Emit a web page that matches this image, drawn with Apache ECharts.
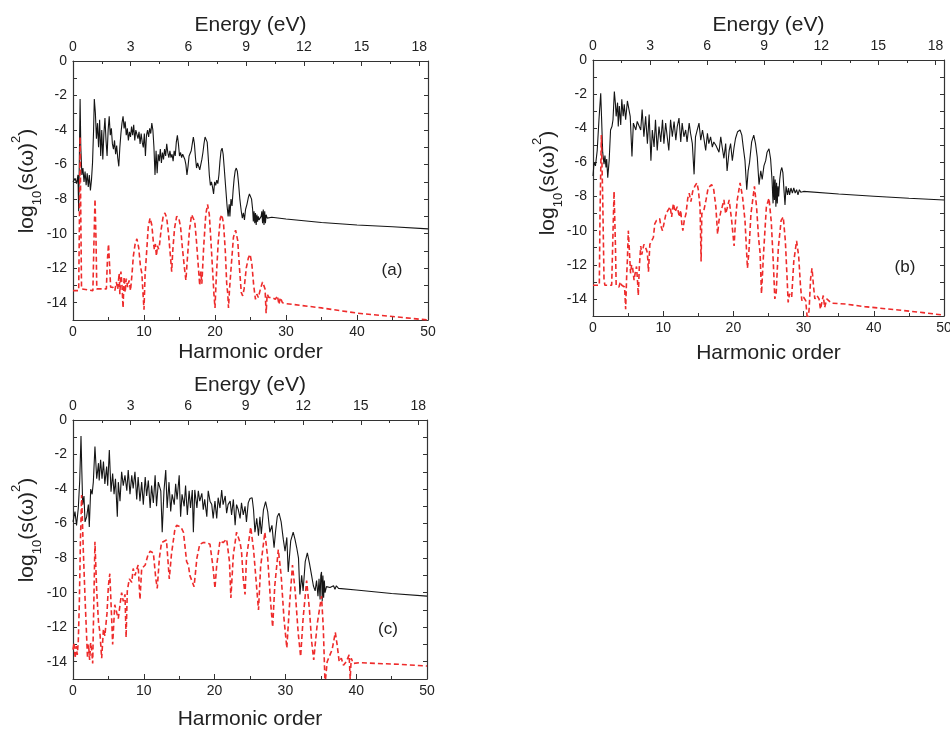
<!DOCTYPE html>
<html><head><meta charset="utf-8">
<script src="https://cdn.jsdelivr.net/npm/echarts@6/dist/echarts.min.js"></script>
<style>html,body{margin:0;padding:0;background:#fff}#c{width:950px;height:729px}</style>
</head><body><div id="c"></div>
<script>
// ---------- data: [harmonic order, log10(s(w)^2)] ----------
const aBlack = [[0,-7.0],[0.3,-6.8],[0.5,-7.1],[0.7,-6.6],[0.8,-8.7],[0.9,-5.5],[1.0,-2.2],[1.1,-5.0],[1.25,-6.6],[1.4,-6.2],[1.55,-7.0],[1.7,-6.4],[1.85,-7.2],[2.0,-6.5],[2.15,-7.3],[2.3,-6.6],[2.45,-7.5],[2.6,-6.9],[2.75,-5.9],[2.9,-4.0],[3.0,-2.2],[3.15,-3.0],[3.3,-4.5],[3.45,-3.6],[3.6,-5.0],[3.75,-3.4],[3.9,-5.5],[4.05,-4.0],[4.2,-5.7],[4.35,-4.2],[4.5,-3.3],[4.65,-4.6],[4.8,-5.5],[4.95,-4.0],[5.1,-3.2],[5.25,-4.3],[5.4,-3.9],[5.55,-4.8],[5.7,-5.1],[5.85,-4.6],[6.0,-5.4],[6.15,-4.9],[6.3,-5.6],[6.45,-6.1],[6.6,-5.0],[6.75,-4.2],[6.9,-3.6],[7.05,-3.2],[7.2,-3.9],[7.35,-3.5],[7.5,-4.3],[7.65,-3.9],[7.8,-4.6],[7.95,-4.1],[8.1,-4.4],[8.25,-3.8],[8.4,-4.3],[8.55,-3.7],[8.7,-4.6],[8.85,-4.0],[9.0,-3.9],[9.15,-4.5],[9.3,-4.1],[9.45,-4.8],[9.6,-4.2],[9.75,-4.7],[9.9,-5.0],[10.05,-4.2],[10.2,-5.5],[10.35,-4.3],[10.5,-4.0],[10.65,-4.4],[10.8,-3.9],[10.95,-4.2],[11.1,-3.6],[11.25,-4.0],[11.4,-5.0],[11.55,-6.6],[11.7,-5.2],[11.85,-6.5],[12.0,-5.4],[12.15,-5.8],[12.3,-5.1],[12.45,-5.9],[12.6,-5.3],[12.75,-5.7],[12.9,-5.1],[13.05,-5.5],[13.2,-4.8],[13.35,-5.3],[13.5,-5.6],[13.65,-5.2],[13.8,-5.6],[13.95,-5.4],[14.1,-5.8],[14.25,-5.2],[14.4,-5.5],[14.55,-4.7],[14.7,-4.3],[14.85,-4.8],[15.0,-5.5],[15.15,-5.3],[15.3,-5.6],[15.45,-5.4],[15.6,-5.5],[15.75,-5.7],[15.9,-6.0],[16.05,-6.6],[16.2,-6.1],[16.35,-5.5],[16.5,-5.5],[16.65,-5.2],[16.8,-4.8],[16.95,-4.4],[17.1,-4.8],[17.25,-5.6],[17.4,-6.2],[17.55,-5.9],[17.7,-6.0],[17.85,-6.3],[18.0,-6.0],[18.15,-5.7],[18.3,-5.3],[18.45,-4.8],[18.6,-4.4],[18.75,-4.3],[18.9,-4.7],[19.05,-5.6],[19.2,-6.6],[19.35,-7.2],[19.5,-7.0],[19.65,-7.3],[19.8,-7.7],[19.95,-7.0],[20.1,-7.2],[20.25,-6.9],[20.4,-7.1],[20.55,-6.6],[20.7,-5.8],[20.85,-5.2],[21.0,-5.05],[21.15,-5.4],[21.3,-6.2],[21.5,-7.3],[21.7,-8.4],[21.85,-9.0],[22.0,-8.3],[22.1,-9.0],[22.25,-8.0],[22.4,-8.4],[22.55,-7.5],[22.7,-6.8],[22.85,-6.35],[23.0,-6.2],[23.15,-6.4],[23.3,-7.0],[23.5,-8.0],[23.7,-8.7],[23.85,-9.1],[24.0,-8.8],[24.15,-9.2],[24.3,-8.6],[24.5,-8.3],[24.7,-7.9],[24.85,-7.7],[25.0,-7.65],[25.15,-8.0],[25.3,-8.6],[25.4,-9.3],[25.5,-8.7],[25.6,-9.4],[25.7,-8.8],[25.8,-9.5],[25.9,-8.9],[26.0,-9.3],[26.1,-9.0],[26.2,-9.2],[26.35,-9.1],[26.5,-9.0],[26.6,-8.7],[26.7,-9.4],[26.8,-8.6],[26.9,-9.5],[27.0,-8.7],[27.1,-9.4],[27.2,-8.9],[27.35,-9.1],[27.5,-9.0],[28,-9.05],[30,-9.15],[35,-9.35],[40,-9.5],[45,-9.6],[50,-9.72]];
const aRed = [[0,-13.3],[0.8,-13.3],[0.9,-9.5],[1.0,-4.4],[1.1,-9.0],[1.2,-13.2],[2.8,-13.3],[2.95,-10.5],[3.1,-8.0],[3.25,-10.5],[3.35,-13.2],[4.7,-13.2],[4.85,-11.5],[5.0,-10.6],[5.15,-11.8],[5.3,-13.1],[5.6,-13.1],[5.9,-13.3],[6.1,-12.8],[6.3,-13.2],[6.5,-12.3],[6.6,-13.5],[6.75,-12.2],[6.9,-13.0],[7.05,-14.3],[7.2,-12.5],[7.35,-13.4],[7.5,-12.6],[7.7,-13.1],[7.9,-12.7],[8.1,-13.3],[8.3,-12.4],[8.5,-11.3],[8.75,-10.6],[9.0,-10.3],[9.25,-10.8],[9.5,-11.9],[9.7,-12.3],[9.85,-13.4],[10.0,-14.4],[10.15,-12.4],[10.35,-11.2],[10.6,-9.6],[10.85,-9.1],[11.1,-9.5],[11.3,-10.4],[11.45,-10.9],[11.6,-10.6],[11.75,-11.3],[11.9,-10.7],[12.05,-10.9],[12.2,-10.6],[12.4,-9.8],[12.7,-9.0],[12.95,-8.8],[13.2,-9.1],[13.45,-10.0],[13.7,-11.2],[13.9,-12.2],[14.05,-11.0],[14.3,-9.7],[14.6,-9.0],[14.9,-9.1],[15.15,-9.6],[15.4,-10.8],[15.7,-12.0],[15.9,-12.7],[16.1,-11.5],[16.4,-9.8],[16.7,-8.9],[16.9,-8.8],[17.15,-9.3],[17.4,-10.5],[17.65,-11.9],[17.85,-13.0],[18.0,-12.2],[18.15,-12.9],[18.4,-10.8],[18.7,-8.9],[18.95,-8.3],[19.2,-8.9],[19.45,-10.6],[19.7,-12.4],[19.85,-13.5],[20.0,-14.3],[20.15,-12.8],[20.45,-10.5],[20.75,-9.1],[20.95,-8.9],[21.2,-9.4],[21.45,-11.0],[21.65,-12.9],[21.8,-13.5],[21.9,-14.3],[22.05,-13.2],[22.3,-11.8],[22.6,-10.2],[22.9,-9.8],[23.2,-10.4],[23.45,-12.0],[23.7,-13.4],[23.9,-13.6],[24.1,-13.2],[24.4,-12.0],[24.7,-11.4],[24.95,-11.2],[25.2,-11.8],[25.45,-13.0],[25.7,-13.8],[25.9,-13.5],[26.1,-13.7],[26.4,-13.2],[26.7,-12.8],[26.9,-12.7],[27.05,-13.2],[27.2,-14.6],[27.35,-13.5],[27.6,-13.7],[28.0,-13.7],[28.5,-13.8],[28.8,-13.6],[29.0,-14.1],[29.2,-13.7],[29.5,-14.0],[30,-14.05],[35,-14.3],[40,-14.6],[45,-14.8],[50,-15.0]];
const bBlack = [[0,-6.8],[0.15,-6.0],[0.35,-6.2],[0.6,-5.3],[0.85,-3.5],[1.1,-1.95],[1.23,-3.5],[1.38,-5.4],[1.57,-6.1],[1.7,-5.6],[1.85,-6.3],[1.95,-5.8],[2.1,-6.9],[2.3,-5.9],[2.5,-4.1],[2.7,-3.9],[2.85,-3.5],[3.04,-1.85],[3.2,-2.6],[3.3,-3.3],[3.5,-2.5],[3.6,-3.9],[3.75,-2.7],[3.95,-3.8],[4.1,-2.3],[4.3,-3.3],[4.45,-2.6],[4.65,-3.5],[4.9,-2.4],[5.1,-2.4],[5.3,-3.3],[5.55,-5.66],[5.75,-3.7],[5.9,-3.6],[6.1,-4.1],[6.3,-3.6],[6.55,-3.7],[6.8,-4.1],[7.0,-2.9],[7.25,-4.5],[7.5,-3.3],[7.75,-4.9],[8.0,-3.2],[8.25,-5.9],[8.45,-4.1],[8.7,-5.1],[8.9,-3.5],[9.15,-5.3],[9.4,-3.9],[9.65,-4.8],[9.9,-3.5],[10.1,-4.9],[10.35,-3.7],[10.6,-4.6],[10.8,-5.3],[11.05,-3.5],[11.3,-4.5],[11.55,-3.6],[11.8,-4.7],[12.0,-3.9],[12.25,-3.4],[12.5,-4.8],[12.7,-3.7],[12.95,-4.5],[13.2,-4.1],[13.4,-4.8],[13.7,-3.7],[13.9,-4.3],[14.15,-4.9],[14.4,-6.7],[14.6,-4.5],[14.85,-4.1],[15.1,-3.7],[15.35,-4.7],[15.6,-4.1],[15.8,-4.6],[16.05,-5.3],[16.3,-4.3],[16.5,-4.9],[16.75,-4.5],[17.0,-5.1],[17.2,-4.8],[17.5,-5.0],[17.7,-4.9],[17.95,-5.4],[18.2,-4.5],[18.4,-5.1],[18.65,-5.76],[18.9,-4.9],[19.1,-6.5],[19.4,-5.3],[19.6,-4.9],[19.85,-5.9],[20.1,-5.1],[20.3,-4.6],[20.6,-4.2],[20.95,-4.1],[21.2,-4.4],[21.4,-5.1],[21.65,-5.9],[21.9,-7.6],[22.1,-6.5],[22.3,-6.0],[22.6,-4.8],[22.9,-4.4],[23.15,-4.9],[23.4,-5.7],[23.65,-7.3],[23.9,-6.5],[24.1,-7.0],[24.35,-6.2],[24.6,-5.9],[24.8,-5.4],[25.07,-5.2],[25.3,-5.8],[25.5,-7.0],[25.65,-8.4],[25.75,-6.8],[25.85,-8.2],[25.95,-7.0],[26.05,-8.6],[26.15,-7.2],[26.25,-8.4],[26.35,-7.4],[26.45,-8.0],[26.6,-7.0],[26.75,-6.5],[26.9,-6.3],[27.05,-6.6],[27.2,-7.6],[27.35,-8.5],[27.5,-7.4],[27.7,-7.9],[27.85,-7.5],[28.0,-7.9],[28.2,-7.5],[28.4,-7.8],[28.6,-7.5],[28.8,-7.8],[29.0,-7.6],[29.2,-7.9],[29.4,-7.6],[29.6,-7.75],[30,-7.7],[35,-7.85],[40,-7.98],[45,-8.1],[50,-8.2]];
const bRed = [[0,-13.2],[0.9,-13.2],[1.0,-9.0],[1.19,-4.4],[1.38,-8.0],[1.57,-12.9],[1.7,-13.2],[2.66,-13.2],[2.8,-10.9],[3.0,-7.7],[3.2,-10.9],[3.3,-13.2],[3.5,-13.1],[3.7,-13.3],[3.9,-13.0],[4.1,-13.2],[4.3,-13.1],[4.5,-13.3],[4.65,-14.6],[4.8,-12.6],[4.9,-11.7],[5.03,-10.0],[5.2,-11.3],[5.35,-12.5],[5.5,-12.0],[5.65,-12.2],[5.85,-12.9],[6.0,-12.5],[6.2,-12.1],[6.35,-13.0],[6.45,-13.8],[6.6,-12.1],[6.8,-10.9],[6.95,-11.4],[7.1,-11.3],[7.25,-10.8],[7.4,-10.7],[7.6,-11.1],[7.75,-11.3],[7.9,-12.4],[8.1,-10.8],[8.35,-10.9],[8.6,-10.4],[8.8,-9.6],[9.05,-9.4],[9.3,-9.5],[9.5,-9.3],[9.65,-9.7],[9.9,-10.0],[10.1,-9.6],[10.4,-9.0],[10.7,-8.8],[11.0,-8.6],[11.2,-9.2],[11.45,-8.4],[11.7,-8.9],[12.0,-8.6],[12.3,-9.2],[12.5,-8.8],[12.65,-9.6],[12.8,-10.0],[13.0,-9.4],[13.25,-9.0],[13.5,-8.1],[13.7,-7.8],[13.95,-8.3],[14.2,-7.7],[14.5,-7.4],[14.8,-7.2],[15.0,-7.6],[15.25,-8.6],[15.4,-11.8],[15.5,-9.0],[15.8,-8.8],[16.1,-8.2],[16.4,-7.5],[16.9,-7.3],[17.2,-7.6],[17.5,-8.6],[17.75,-10.2],[17.95,-9.4],[18.2,-8.9],[18.4,-8.6],[18.65,-8.2],[18.9,-9.0],[19.1,-8.7],[19.4,-8.2],[19.75,-9.4],[20.1,-10.9],[20.3,-9.4],[20.55,-8.2],[20.95,-7.2],[21.3,-8.0],[21.65,-9.4],[22.0,-12.2],[22.2,-11.3],[22.5,-9.0],[23.0,-7.4],[23.3,-8.6],[23.6,-10.5],[23.8,-11.3],[24.0,-13.7],[24.3,-11.3],[24.7,-8.6],[25.07,-8.1],[25.4,-9.5],[25.7,-12.0],[25.9,-14.0],[26.1,-13.6],[26.4,-11.0],[26.8,-9.4],[27.1,-9.2],[27.4,-10.6],[27.65,-12.8],[27.8,-14.2],[28.0,-13.7],[28.3,-13.9],[28.6,-11.8],[29.0,-10.6],[29.3,-11.5],[29.55,-13.2],[29.75,-14.1],[30.0,-13.9],[30.3,-14.1],[30.6,-15.5],[30.8,-14.5],[31.0,-12.8],[31.2,-12.2],[31.4,-13.2],[31.6,-14.0],[31.9,-13.8],[32.2,-14.0],[32.4,-14.6],[32.6,-14.2],[32.8,-13.8],[33.0,-14.5],[33.3,-14.0],[34,-14.25],[36,-14.3],[38.7,-14.45],[43.5,-14.65],[47,-14.8],[50,-14.95]];
const cBlack = [[0,-5.9],[0.28,-5.3],[0.5,-6.1],[0.75,-5.1],[0.95,-3.5],[1.13,-0.93],[1.25,-3.0],[1.37,-4.9],[1.55,-4.4],[1.7,-5.9],[1.93,-5.6],[2.17,-4.9],[2.3,-6.2],[2.5,-4.0],[2.7,-4.3],[2.87,-3.6],[3.1,-1.54],[3.35,-3.4],[3.6,-2.5],[3.7,-3.5],[3.9,-2.3],[4.1,-3.4],[4.3,-2.4],[4.5,-3.7],[4.75,-2.7],[4.9,-3.8],[5.13,-1.74],[5.37,-4.15],[5.6,-3.1],[5.8,-4.3],[6.0,-3.4],[6.26,-5.6],[6.4,-3.6],[6.64,-4.7],[6.87,-3.0],[7.1,-3.8],[7.34,-3.2],[7.6,-4.1],[7.8,-2.9],[8.05,-4.3],[8.3,-3.2],[8.5,-3.96],[8.75,-3.0],[9.0,-4.6],[9.2,-3.3],[9.46,-4.7],[9.7,-3.6],[9.93,-4.9],[10.2,-3.3],[10.4,-4.4],[10.64,-3.5],[10.9,-5.1],[11.1,-3.8],[11.35,-4.8],[11.6,-3.2],[11.8,-5.0],[12.05,-3.6],[12.4,-4.1],[12.6,-6.5],[12.85,-4.1],[13.1,-2.9],[13.3,-5.1],[13.56,-3.6],[13.8,-5.3],[14.0,-4.3],[14.3,-4.9],[14.5,-3.7],[14.7,-4.6],[15.0,-3.2],[15.2,-5.6],[15.4,-4.3],[15.7,-5.0],[15.9,-3.8],[16.15,-5.5],[16.4,-4.1],[16.6,-5.1],[16.85,-4.05],[17.0,-6.5],[17.2,-4.05],[17.5,-5.1],[17.7,-4.1],[17.9,-4.7],[18.2,-4.25],[18.4,-5.2],[18.6,-4.6],[18.9,-5.6],[19.1,-4.1],[19.35,-4.7],[19.6,-4.9],[19.8,-5.7],[20.05,-4.7],[20.3,-5.7],[20.5,-4.5],[20.76,-5.1],[21.0,-4.05],[21.2,-4.9],[21.5,-4.4],[21.7,-5.4],[21.9,-4.9],[22.2,-4.7],[22.4,-5.5],[22.65,-4.6],[22.9,-6.1],[23.1,-4.9],[23.35,-5.2],[23.6,-5.7],[23.8,-4.8],[24.05,-5.5],[24.3,-5.0],[24.5,-5.9],[24.75,-4.8],[25.0,-4.55],[25.3,-4.5],[25.5,-5.2],[25.7,-6.5],[25.95,-5.7],[26.2,-6.7],[26.4,-5.6],[26.6,-6.6],[26.9,-5.2],[27.2,-4.73],[27.5,-5.3],[27.8,-6.5],[28.1,-6.1],[28.4,-7.4],[28.6,-6.5],[28.85,-5.6],[29.1,-5.4],[29.4,-5.9],[29.7,-6.9],[29.95,-7.6],[30.2,-6.8],[30.4,-8.8],[30.75,-7.0],[31.1,-6.5],[31.35,-6.9],[31.6,-7.4],[31.85,-8.0],[32.05,-10.1],[32.3,-9.0],[32.5,-9.9],[32.8,-8.2],[33.1,-7.7],[33.4,-8.3],[33.7,-9.0],[33.95,-9.6],[34.2,-9.9],[34.4,-9.3],[34.6,-10.2],[34.75,-9.2],[34.9,-10.4],[35.0,-9.0],[35.1,-8.8],[35.2,-10.5],[35.3,-9.0],[35.4,-10.3],[35.5,-9.3],[35.6,-10.0],[35.8,-9.65],[36.3,-9.7],[36.8,-9.6],[37.0,-9.8],[37.2,-9.6],[37.5,-9.75],[40,-9.85],[45,-10.05],[50,-10.2]];
const cRed = [[0,-13.3],[0.15,-12.9],[0.3,-13.8],[0.45,-13.1],[0.6,-13.6],[0.75,-12.8],[0.9,-10.5],[1.05,-7.0],[1.22,-4.35],[1.46,-7.6],[1.7,-10.3],[1.93,-12.6],[2.05,-13.8],[2.2,-13.0],[2.35,-13.9],[2.5,-12.9],[2.65,-13.4],[2.78,-14.1],[2.9,-11.5],[3.1,-7.05],[3.35,-9.9],[3.6,-11.7],[3.8,-12.3],[4.05,-13.8],[4.3,-12.1],[4.5,-12.5],[4.8,-11.2],[5.0,-9.6],[5.2,-8.9],[5.46,-11.5],[5.6,-13.0],[5.9,-10.7],[6.2,-11.2],[6.4,-11.5],[6.64,-10.7],[6.87,-10.0],[7.1,-10.5],[7.34,-10.1],[7.5,-12.6],[7.67,-9.9],[7.95,-9.2],[8.3,-9.4],[8.5,-8.6],[8.75,-9.0],[9.2,-8.4],[9.46,-10.4],[9.7,-8.6],[10.2,-8.4],[10.6,-7.8],[10.9,-7.6],[11.35,-7.7],[11.7,-9.2],[11.9,-9.75],[12.2,-8.0],[12.5,-7.1],[12.75,-7.0],[13.2,-6.95],[13.6,-9.2],[13.9,-7.8],[14.4,-6.3],[14.64,-6.1],[15.25,-6.2],[15.6,-6.5],[16.05,-8.2],[16.3,-8.4],[16.5,-9.0],[17.1,-9.65],[17.5,-8.0],[17.9,-7.2],[18.4,-7.1],[18.9,-7.1],[19.35,-7.2],[19.8,-8.6],[20.05,-9.75],[20.3,-8.4],[20.76,-7.0],[21.2,-7.1],[21.7,-6.9],[22.1,-8.2],[22.3,-10.3],[22.65,-7.8],[23.1,-6.5],[23.6,-7.1],[23.8,-7.6],[24.05,-9.2],[24.3,-10.1],[24.5,-8.0],[25.1,-6.2],[25.5,-7.5],[25.9,-9.5],[26.2,-11.0],[26.5,-8.5],[27.1,-6.5],[27.5,-8.0],[27.9,-10.5],[28.2,-12.0],[28.5,-9.6],[29.0,-7.5],[29.4,-9.0],[29.8,-11.5],[30.2,-13.2],[30.6,-10.6],[31.0,-8.4],[31.4,-10.0],[31.8,-12.3],[32.15,-13.7],[32.5,-11.5],[33.0,-9.3],[33.4,-11.0],[33.7,-12.8],[34.0,-13.9],[34.5,-11.8],[35.1,-10.2],[35.35,-12.0],[35.6,-15.3],[35.9,-14.0],[36.2,-13.7],[36.6,-13.3],[37.05,-12.3],[37.3,-13.0],[37.6,-14.0],[37.9,-13.8],[38.2,-14.2],[38.6,-14.0],[39.0,-13.6],[39.15,-15.0],[39.3,-13.8],[39.6,-14.1],[40.5,-14.05],[43,-14.1],[46,-14.15],[50,-14.25]];

const panelLetters = ['(a)', '(b)', '(c)'];
const harmonicTicks = {min: 0, max: 50, interval: 10};
const energyTicks = {min: 0, max: 18.45, interval: 3};
const logTicks = {min: -15, max: 0, interval: 1};

// ---------- layout ----------
const FONT = "'Liberation Sans', Arial, sans-serif";
const grids = [
  {left: 73, top: 61, width: 355, height: 259},
  {left: 593, top: 60, width: 351, height: 256},
  {left: 73, top: 420, width: 354, height: 259}
];
const bottomGap = [22, 27, 30];
const topGap = [25, 24, 24];
const yLabelPos = [[27, 181], [548, 183], [27, 530]];
const letterPos = [[392, 270], [905, 267], [388, 629]];
const panels = [[aBlack, aRed], [bBlack, bRed], [cBlack, cRed]];

const axisColor = '#333';
const lineBase = {show: true, onZero: false, lineStyle: {color: axisColor, width: 1.2}};
const xAxes = [], yAxes = [], series = [], graphics = [];
grids.forEach((g, i) => {
  xAxes.push({
    gridIndex: i, type: 'value', position: 'bottom',
    min: harmonicTicks.min, max: harmonicTicks.max, interval: harmonicTicks.interval,
    axisLine: lineBase,
    axisTick: {show: true, inside: true, length: 5, lineStyle: {color: axisColor}},
    minorTick: {show: true, splitNumber: 2, length: 3, lineStyle: {color: axisColor}},
    splitLine: {show: false},
    axisLabel: {fontSize: 14, color: '#222', margin: 5, fontFamily: FONT},
    name: 'Harmonic order', nameLocation: 'middle', nameGap: bottomGap[i],
    nameTextStyle: {fontSize: 21, color: '#222', fontFamily: FONT}
  });
  xAxes.push({
    gridIndex: i, type: 'value', position: 'top',
    min: energyTicks.min, max: energyTicks.max, interval: energyTicks.interval,
    axisLine: lineBase,
    axisTick: {show: true, inside: true, length: 5, lineStyle: {color: axisColor}},
    minorTick: {show: true, splitNumber: 2, length: 3, lineStyle: {color: axisColor}},
    splitLine: {show: false},
    axisLabel: {fontSize: 14, color: '#222', margin: 7, fontFamily: FONT, showMaxLabel: false},
    name: 'Energy (eV)', nameLocation: 'middle', nameGap: topGap[i],
    nameTextStyle: {fontSize: 21, color: '#222', fontFamily: FONT}
  });
  yAxes.push({
    gridIndex: i, type: 'value', position: 'left',
    min: logTicks.min, max: logTicks.max, interval: logTicks.interval,
    axisLine: lineBase,
    axisTick: {show: true, inside: true, length: 4, lineStyle: {color: axisColor}},
    splitLine: {show: false},
    axisLabel: {fontSize: 14, color: '#222', margin: 6, fontFamily: FONT,
      formatter: v => (Math.round(v) % 2 === 0 ? String(Math.round(v)) : '')}
  });
  yAxes.push({
    gridIndex: i, type: 'value', position: 'right',
    min: logTicks.min, max: logTicks.max, interval: logTicks.interval,
    axisLine: lineBase,
    axisTick: {show: true, inside: true, length: 4, lineStyle: {color: axisColor}},
    splitLine: {show: false},
    axisLabel: {show: false}
  });
  const [blk, red] = panels[i];
  series.push({
    type: 'line', xAxisIndex: 2 * i, yAxisIndex: 2 * i, data: blk,
    showSymbol: false, symbol: 'none', lineStyle: {color: '#151515', width: 1.1}, z: 3,
    animation: false
  });
  series.push({
    type: 'line', xAxisIndex: 2 * i, yAxisIndex: 2 * i, data: red,
    showSymbol: false, symbol: 'none', lineStyle: {color: '#ee2b2b', width: 1.6, type: [5, 3]}, z: 4,
    animation: false
  });
  graphics.push({
    type: 'text', x: yLabelPos[i][0], y: yLabelPos[i][1], rotation: Math.PI / 2,
    style: {
      text: '{n|log}{sub|10}{n|(s(ω)}{sup|2}{n|)}',
      align: 'center', verticalAlign: 'middle', fill: '#222',
      rich: {
        n: {fontSize: 21, fontFamily: FONT, lineHeight: 34, fill: '#222'},
        sub: {fontSize: 13, fontFamily: FONT, lineHeight: 14, verticalAlign: 'bottom', fill: '#222'},
        sup: {fontSize: 13, fontFamily: FONT, lineHeight: 18, verticalAlign: 'top', fill: '#222'}
      }
    }
  });
  graphics.push({
    type: 'text', x: letterPos[i][0], y: letterPos[i][1],
    style: {text: panelLetters[i], fontSize: 17, fontFamily: FONT, fill: '#222', align: 'center', verticalAlign: 'middle'}
  });
});

const chart = echarts.init(document.getElementById('c'), null, {renderer: 'canvas'});
chart.setOption({
  animation: false,
  backgroundColor: '#fff',
  grid: grids.map(g => Object.assign({containLabel: false, outerBoundsMode: 'none'}, g)),
  xAxis: xAxes, yAxis: yAxes, series: series, graphic: graphics
});
</script></body></html>
